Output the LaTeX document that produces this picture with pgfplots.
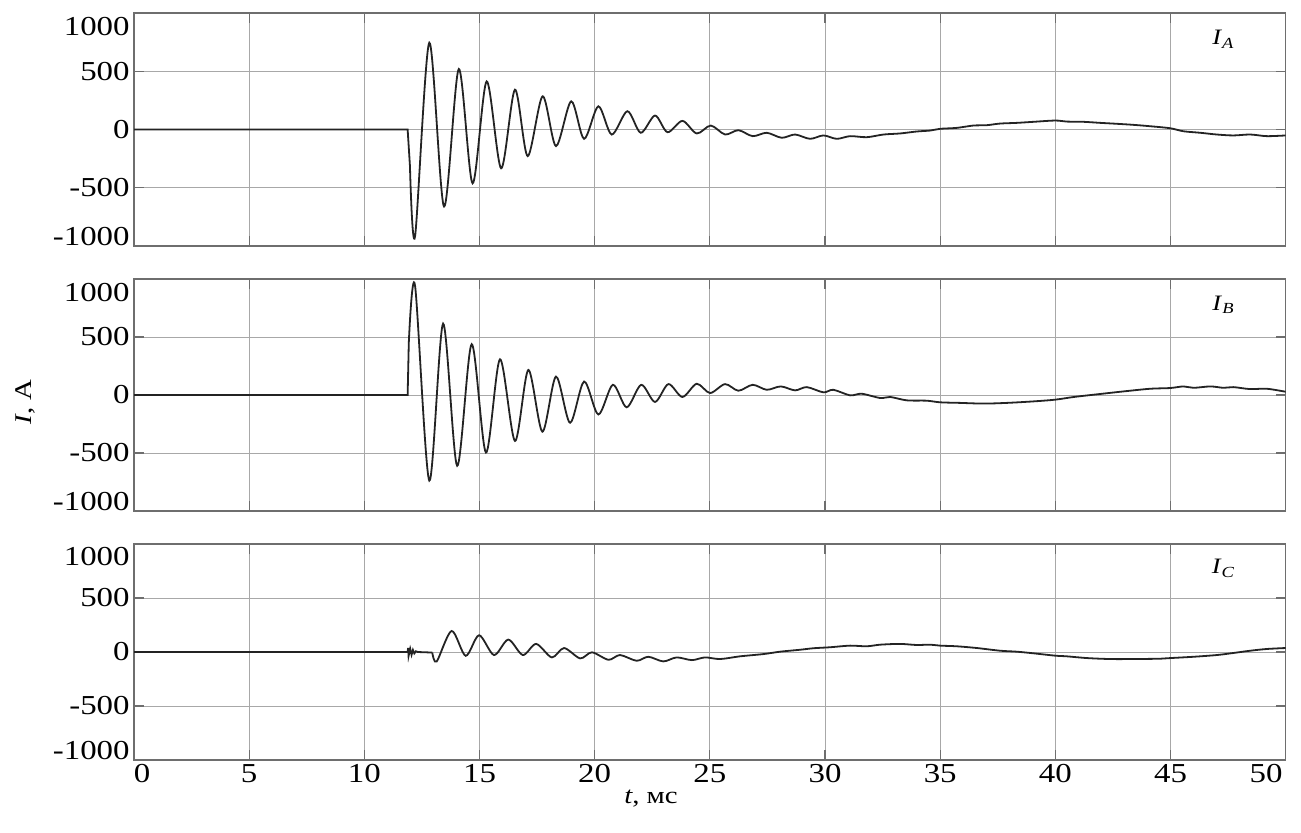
\documentclass[border=0pt]{standalone}
\usepackage{pgfplots}
\pgfplotsset{compat=1.18}
\usepackage{fontspec}
\setmainfont{Liberation Serif}[FakeStretch=1.2]
\definecolor{gridc}{RGB}{168,168,168}
\definecolor{framec}{RGB}{110,110,110}
\definecolor{curvec}{RGB}{35,35,35}
\pgfplotsset{
  panel/.style={
    scale only axis, width=575.85pt, xmin=0, xmax=50, ymin=-1000, ymax=1000,
    anchor=north west,
    axis line style={framec, line width=0.6pt},
    grid=major, major grid style={gridc, line width=0.5pt},
    tick align=inside, major tick length=5pt,
    tick style={framec, line width=0.6pt},
    xtick={5,10,...,45}, ytick={-500,0,500}, yticklabels={-500,0,500},
    extra y ticks={-915,880}, extra y tick labels={-1000,1000},
    extra y tick style={grid=none, major tick length=0pt},
    tick label style={font=\fontsize{13.7}{16}\selectfont},
    yticklabel style={inner sep=2pt},
    xticklabel style={inner sep=2pt},
  },
  curve/.style={curvec, line width=0.9pt, no markers},
}
\begin{document}
\begin{tikzpicture}
\path[use as bounding box] (0,0) rectangle (650.5pt,-416pt);
% Panel A
\begin{axis}[panel, at={(67pt,-6.5pt)}, height=116.5pt, xticklabels={}]
\addplot[curve] coordinates {(0,0) (11.88,0) (11.98,-313)};
\addplot[curve, smooth] coordinates {
(11.98,-313) (12.2,-920) (12.82,745) (13.46,-661) (14.1,519) (14.7,-462) (15.31,413)
(15.94,-333) (16.54,342) (17.09,-228) (17.74,285) (18.32,-142) (18.98,242) (19.54,-80)
(20.16,199) (20.74,-43) (21.42,157) (22.0,-28) (22.62,120) (23.16,-23) (23.81,74)
(24.43,-34) (25.04,34) (25.66,-43) (26.24,-6) (26.86,-57) (27.47,-28) (28.12,-71)
(28.7,-43) (29.35,-80) (29.93,-51) (30.51,-80) (31.09,-57) (31.81,-66) (32.54,-43)
(33.26,-34) (33.98,-17) (34.56,-9) (35.0,6) (35.72,14) (36.44,34) (37.02,37) (37.6,51)
(38.33,57) (39.05,66) (40.0,77) (40.5,68) (41.22,66) (41.95,57) (42.67,49) (43.39,40)
(44.12,28) (44.98,11) (45.56,-15) (46.29,-28) (47.01,-43) (47.73,-51) (48.46,-43)
(49.18,-57) (50,-51)};
\node[font=\fontsize{11}{13}\selectfont] at (axis cs:47.3,775) {\textit{I}\textsubscript{\textit{A}}};
\end{axis}
% Panel B
\begin{axis}[panel, at={(67pt,-139.5pt)}, height=116pt, xticklabels={}]
\addplot[curve] coordinates {(0,0) (11.88,0) (11.93,450)};
\addplot[curve, smooth] coordinates {
(11.93,450) (12.2,945) (12.82,-738) (13.42,615) (14.03,-610) (14.66,438) (15.28,-496)
(15.89,308) (16.54,-396) (17.12,216) (17.73,-316) (18.32,159) (18.93,-239) (19.54,116)
(20.16,-168) (20.79,88) (21.39,-106) (22.02,88) (22.62,-60) (23.2,94) (23.81,-17)
(24.43,97) (25.01,17) (25.66,94) (26.24,37) (26.86,88) (27.47,45) (28.08,74) (28.7,40)
(29.21,68) (29.93,23) (30.36,45) (31.09,-3) (31.59,11) (32.4,-26) (32.83,-17)
(33.55,-46) (34.42,-49) (35.0,-63) (35.87,-68) (36.88,-74) (37.89,-68) (39.05,-55)
(40.0,-40) (40.8,-17) (41.95,9) (42.96,31) (44.12,54) (44.98,60) (45.56,74) (46.0,62)
(46.73,74) (47.3,62) (47.73,68) (48.46,51) (49.18,54) (50,28)};
\node[font=\fontsize{11}{13}\selectfont] at (axis cs:47.3,775) {\textit{I}\textsubscript{\textit{B}}};
\end{axis}
% Panel C
\begin{axis}[panel, at={(67pt,-272pt)}, height=108pt,
  xticklabels={5,10,15,20,25,30,35,40,45},
  extra x ticks={0.35,49.15}, extra x tick labels={0,50},
  extra x tick style={grid=none, major tick length=0pt}]
\addplot[curve] coordinates {(0,0) (11.88,0) (11.9,38) (11.92,-38) (11.99,30) (12.05,-26)
(12.11,19) (12.17,-13) (12.24,7) (12.32,0) (12.95,-5)};
\addplot[curve, smooth] coordinates {
(12.95,-5) (13.14,-88) (13.79,195) (14.4,-35) (14.98,155) (15.63,-28) (16.25,115)
(16.88,-28) (17.46,75) (18.14,-50) (18.67,37) (19.37,-59) (19.88,-3) (20.6,-72)
(21.1,-28) (21.82,-81) (22.33,-44) (22.98,-87) (23.56,-50) (24.22,-75) (24.79,-50)
(25.44,-65) (26.31,-40) (27.33,-19) (28.05,3) (28.92,21) (29.5,35) (30.22,44)
(31.09,59) (31.81,53) (32.4,68) (33.26,75) (33.98,65) (34.56,68) (35.0,59) (35.72,53)
(36.59,37) (37.6,12) (38.33,3) (39.05,-12) (40.0,-34) (40.5,-40) (41.37,-56)
(42.38,-65) (43.39,-65) (44.56,-62) (45.0,-56) (46.0,-44) (47.01,-28) (47.73,-9)
(48.46,12) (49.18,28) (50,37)};
\node[font=\fontsize{11}{13}\selectfont] at (axis cs:47.3,775) {\textit{I}\textsubscript{\textit{C}}};
\end{axis}
\node[rotate=90, font=\fontsize{12}{14}\selectfont] at (12.5pt,-201pt) {\textit{I}, A};
\node[font=\fontsize{12}{14}\selectfont] at (325.5pt,-399.5pt) {\textit{t}, мс};
\end{tikzpicture}
\end{document}
